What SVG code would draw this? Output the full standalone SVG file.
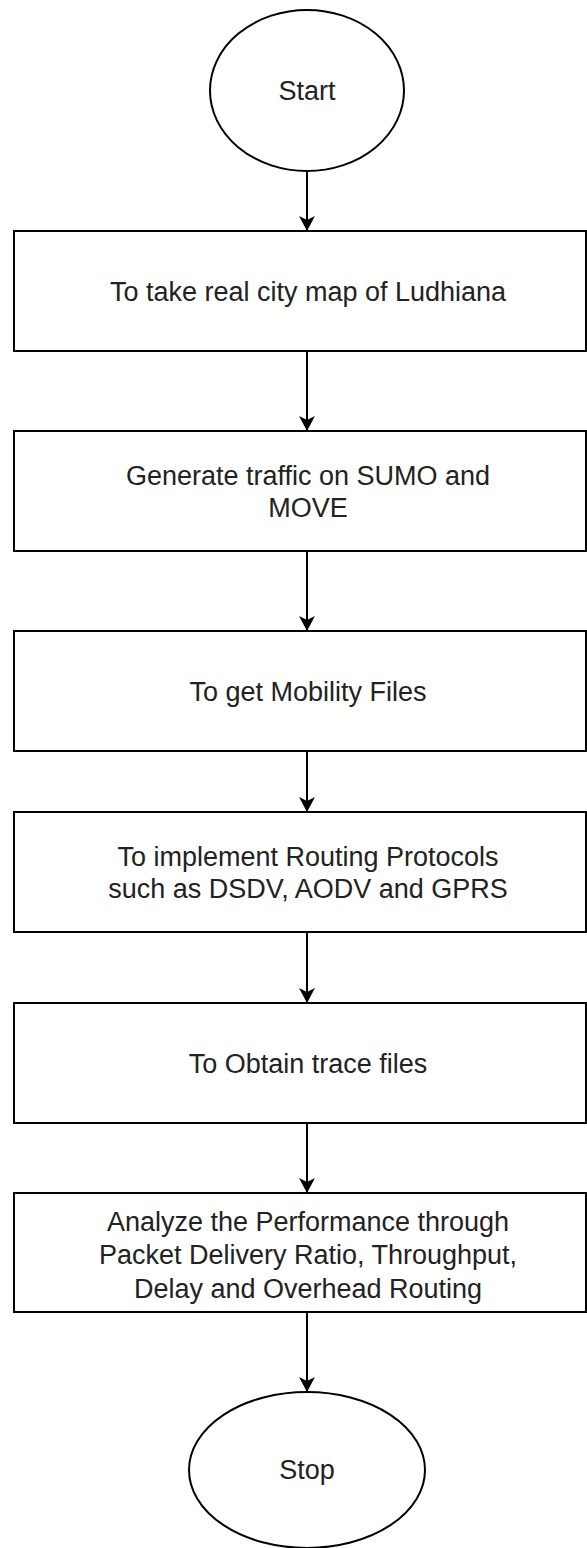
<svg xmlns="http://www.w3.org/2000/svg" width="587" height="1548" viewBox="0 0 587 1548">
<defs>
<style>
.shape{fill:#fff;stroke:#000;stroke-width:2}
.lbl{font-family:"Liberation Sans",Arial,sans-serif;font-size:27px;fill:#222;text-anchor:middle}
.conn{stroke:#000;stroke-width:2;fill:none}
</style>
<marker id="arr" markerWidth="15" markerHeight="16" refX="15" refY="8" orient="auto" markerUnits="userSpaceOnUse" viewBox="0 0 15 16">
<path d="M0,0 L15,8 L0,16 L4,8 Z" fill="#000"/>
</marker>
</defs>
<rect width="587" height="1548" fill="#fff"/>
<g id="connectors">
<line class="conn" x1="307" y1="171" x2="307" y2="231" marker-end="url(#arr)"/>
<line class="conn" x1="307" y1="351" x2="307" y2="431" marker-end="url(#arr)"/>
<line class="conn" x1="307" y1="551" x2="307" y2="631" marker-end="url(#arr)"/>
<line class="conn" x1="307" y1="751" x2="307" y2="812" marker-end="url(#arr)"/>
<line class="conn" x1="307" y1="932" x2="307" y2="1003" marker-end="url(#arr)"/>
<line class="conn" x1="307" y1="1123" x2="307" y2="1193" marker-end="url(#arr)"/>
<line class="conn" x1="307" y1="1312" x2="307" y2="1392" marker-end="url(#arr)"/>
</g>
<g id="start">
<ellipse class="shape" cx="307" cy="90.5" rx="97" ry="80.5"/>
<text class="lbl" x="307" y="100">Start</text>
</g>
<g id="step1">
<rect class="shape" x="14" y="231" width="572" height="120"/>
<text class="lbl" x="308" y="301">To take real city map of Ludhiana</text>
</g>
<g id="step2">
<rect class="shape" x="14" y="431" width="572" height="120"/>
<text class="lbl" x="308" y="485">Generate traffic on SUMO and</text>
<text class="lbl" x="308" y="517">MOVE</text>
</g>
<g id="step3">
<rect class="shape" x="14" y="631" width="572" height="120"/>
<text class="lbl" x="308" y="701">To get Mobility Files</text>
</g>
<g id="step4">
<rect class="shape" x="14" y="812" width="572" height="120"/>
<text class="lbl" x="308" y="866">To implement Routing Protocols</text>
<text class="lbl" x="308" y="898">such as DSDV, AODV and GPRS</text>
</g>
<g id="step5">
<rect class="shape" x="14" y="1003" width="572" height="120"/>
<text class="lbl" x="308" y="1073">To Obtain trace files</text>
</g>
<g id="step6">
<rect class="shape" x="14" y="1193" width="572" height="119"/>
<text class="lbl" x="308" y="1231">Analyze the Performance through</text>
<text class="lbl" x="308" y="1264">Packet Delivery Ratio, Throughput,</text>
<text class="lbl" x="308" y="1298">Delay and Overhead Routing</text>
</g>
<g id="stop">
<ellipse class="shape" cx="307" cy="1470" rx="118" ry="78"/>
<text class="lbl" x="307" y="1479">Stop</text>
</g>
</svg>
